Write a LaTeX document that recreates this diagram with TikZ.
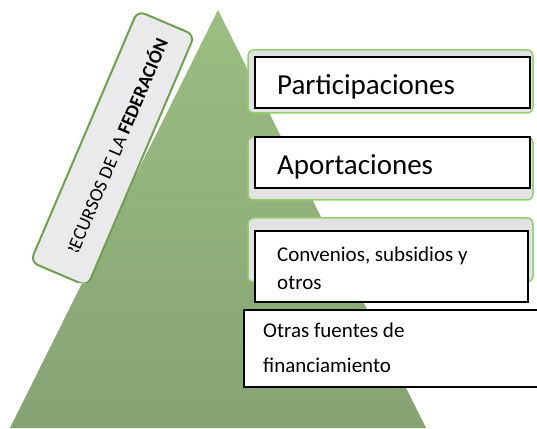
\documentclass[tikz,border=0pt]{standalone}
\usepackage{fontspec}
\setmainfont{Carlito}
\definecolor{piramide}{RGB}{134,163,115}
\definecolor{piramideclaro}{RGB}{155,190,130}
\definecolor{marco}{RGB}{150,205,110}
\definecolor{fondo}{RGB}{226,226,228}
\definecolor{etiqueta}{RGB}{234,234,236}
\definecolor{borde}{RGB}{110,160,80}
\begin{document}
\begin{tikzpicture}[x=1pt,y=1pt,
    caja/.style={draw=marco,line width=1.5pt,fill=fondo,rounded corners=6pt},
    cuadro/.style={draw=black,line width=1.5pt,fill=white},
    texto/.style={anchor=base west,inner sep=0pt,align=left}]
    \useasboundingbox (0,0) rectangle (537,428);
    % piramide
    \shade[top color=piramideclaro,middle color=piramide,bottom color=piramide] (10,0) -- (218,418) -- (426,0) -- cycle;
    % etiqueta girada
    \begin{scope}
        \clip (0,145) rectangle (300,428);
        \begin{scope}[shift={(112.5,279.5)},rotate=66.9]
            \draw[line width=2pt,draw=borde,fill=etiqueta,rounded corners=8pt] (-136.5,-31) rectangle (136.5,31);
            \clip (-109,-31) rectangle (136.5,31);
            \node[anchor=east,inner sep=0pt,rotate=66.9,font=\fontsize{19}{22}\selectfont] (recursos) at (120,-2) {RECURSOS DE LA \textbf{FEDERACIÓN}};
        \end{scope}
    \end{scope}
    % cajas
    \draw[caja] (248,315) rectangle (533,378);
    \draw[cuadro] (255,320) rectangle (530,371);
    \draw[caja] (248,228) rectangle (533,291);
    \draw[cuadro] (255,240) rectangle (530,291);
    \draw[caja] (248,146) rectangle (533,210);
    \draw[cuadro] (255,126) rectangle (528,197);
    \draw[cuadro] (244,41) rectangle (545,118);
    % textos
    \node[texto,font=\fontsize{29}{34}\selectfont] (participaciones) at (277,333) {Participaciones};
    \node[texto,font=\fontsize{29}{34}\selectfont] (aportaciones) at (277,253) {Aportaciones};
    \node[texto,font=\fontsize{21}{28}\selectfont] (convenios) at (277,138) {Convenios, subsidios y\\otros};
    \node[texto,font=\fontsize{21}{35}\selectfont] (otras) at (263,56) {Otras fuentes de\\financiamiento};
\end{tikzpicture}
\end{document}
